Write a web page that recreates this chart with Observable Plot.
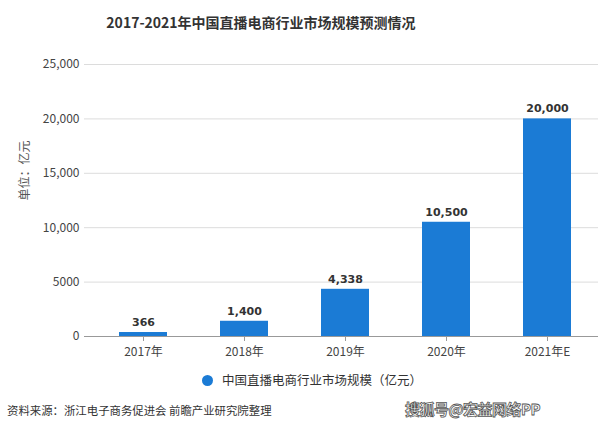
<!DOCTYPE html>
<html>
<head>
<meta charset="utf-8">
<script src="https://cdn.jsdelivr.net/npm/d3@7"></script>
<script src="https://cdn.jsdelivr.net/npm/@observablehq/plot@0.6"></script>
<style>
  html, body { margin: 0; padding: 0; background: #fff; }
  body { width: 615px; height: 438px; position: relative; overflow: hidden;
         font-family: "Noto Sans CJK SC", "Noto Sans", sans-serif; color: #333; }
  #title { position: absolute; left: 0; width: 522px; top: 10px; text-align: center;
           font-size: 14px; font-weight: bold; line-height: 24px; color: #333; }
  #chart { position: absolute; left: 0; top: 44px; }
  #legend { position: absolute; left: 202px; top: 371px; font-size: 12.5px; line-height: 18px; color: #333;
            display: flex; align-items: center; }
  #legend .dot { width: 11px; height: 11px; border-radius: 50%; background: #1b7bd5; margin-right: 9px; }
  #source { position: absolute; left: 7px; top: 401px; font-size: 11.4px; line-height: 18px; color: #333; }
  #wm { position: absolute; left: 405px; top: 399px; font-size: 15px; line-height: 20px; color: #fff;
        font-weight: bold; letter-spacing: -0.5px; -webkit-text-stroke: 0.8px #555; }
</style>
</head>
<body>
<div id="title">2017-2021年中国直播电商行业市场规模预测情况</div>
<div id="chart"></div>
<div id="legend"><span class="dot"></span><span id="legendText"></span></div>
<div id="source">资料来源：浙江电子商务促进会 前瞻产业研究院整理</div>
<div id="wm">搜狐号@宏益网络PP</div>
<script>
const years = ["2017年", "2018年", "2019年", "2020年", "2021年E"];
const values = [366, 1400, 4338, 10500, 20000];
const yTicks = [0, 5000, 10000, 15000, 20000, 25000];
const seriesName = "中国直播电商行业市场规模（亿元）";
const yUnit = "单位：亿元";

document.getElementById("legendText").textContent = seriesName;

const data = years.map((year, i) => ({year, value: values[i]}));
const barColor = "#1b7bd5";
const fmtTick = d => d >= 10000 ? d3.format(",")(d) : String(d);

const chart = Plot.plot({
  width: 615,
  height: 330,
  marginTop: 20,
  marginBottom: 38,
  marginLeft: 84,
  marginRight: 17,
  style: {fontFamily: "'Noto Sans CJK SC', 'Noto Sans', sans-serif", background: "transparent"},
  x: {domain: years, paddingInner: 0.525, paddingOuter: 0.307, align: 0.57, label: null},
  y: {domain: [0, 25000], label: null},
  marks: [
    Plot.gridY(yTicks, {stroke: "#dcdcdc", strokeOpacity: 1}),
    Plot.axisY(yTicks, {tickSize: 0, tickPadding: 5, tickFormat: fmtTick, fontSize: 12, fill: "#444", label: null}),
    Plot.barY(data, {x: "year", y: "value", fill: barColor}),
    Plot.ruleY([0], {stroke: "#999"}),
    Plot.axisX({tickSize: 5, tickPadding: 6, stroke: "#999", fill: "#444", fontSize: 12, label: null}),
    Plot.text(data, {x: "year", y: "value", text: d => d3.format(",")(d.value), dy: -10,
      fontWeight: "bold", fontSize: 11, fill: "#333", fontFamily: "'DejaVu Sans', sans-serif"}),
    Plot.text([yUnit], {frameAnchor: "left", dx: -59, rotate: -90, fontSize: 12, fill: "#555"})
  ]
});
document.getElementById("chart").appendChild(chart);
</script>
</body>
</html>
